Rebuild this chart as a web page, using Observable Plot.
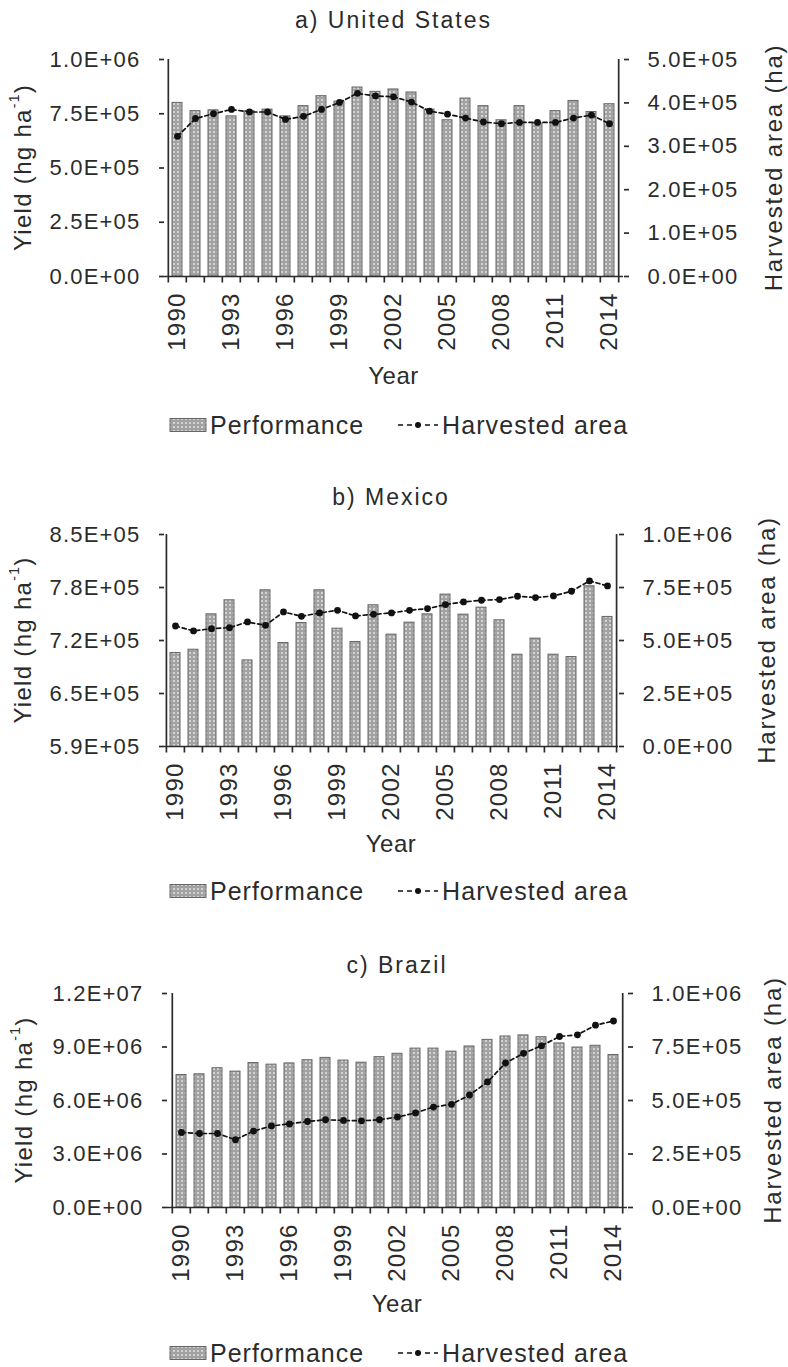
<!DOCTYPE html>
<html><head><meta charset="utf-8">
<script src="https://cdn.jsdelivr.net/npm/d3@7"></script>
<script src="https://cdn.jsdelivr.net/npm/@observablehq/plot@0.6"></script>
<style>
body{margin:0;background:#fff;}
#root{position:relative;width:788px;height:1367px;overflow:hidden;font-family:"Liberation Sans",Arial,sans-serif;color:#2b2b2b;}
.title{position:absolute;left:0;width:788px;text-align:center;font-size:23px;letter-spacing:2px;line-height:30px;}
</style></head><body><div id="root"></div>
<script>
// ---- data ----
const years = [1990,1991,1992,1993,1994,1995,1996,1997,1998,1999,2000,2001,2002,2003,2004,2005,2006,2007,2008,2009,2010,2011,2012,2013,2014];
const labelYears = [1990,1993,1996,1999,2002,2005,2008,2011,2014];

const usYield = [800000,762000,766000,738000,762000,769000,738000,785000,831000,806000,871000,851000,862000,848000,769000,720000,820000,785000,720000,785000,705000,762000,809000,758000,794000];
const usArea  = [323000,364000,375000,385000,379000,379000,362000,369000,385000,401000,422000,416000,414000,402000,381000,374000,365000,356000,352000,355000,355000,355000,365000,372000,352000];

const mxYield = [699700,703700,747100,764300,690600,776600,711900,736500,776600,729500,713200,758200,722200,736900,747100,771300,746700,755300,739800,697600,717300,697600,694700,781500,743900];
const mxArea  = [568500,545000,555900,560600,587400,571700,634600,614200,629900,642500,615700,623600,629900,642500,650400,669300,681900,689800,692900,708700,702400,710200,732300,781100,757500];

const brYield = [7430000,7470000,7810000,7620000,8100000,8010000,8080000,8260000,8390000,8240000,8120000,8430000,8620000,8910000,8910000,8740000,9030000,9400000,9590000,9650000,9550000,9200000,8970000,9070000,8550000];
const brArea  = [350500,345700,345700,316700,356900,381000,390700,401900,410000,406800,405100,410000,422800,442100,469500,482300,525700,586800,675200,720300,755600,799000,807100,852100,871400];

const usYTicks = [0,250000,500000,750000,1000000];
const usYLabels = ["0.0E+00","2.5E+05","5.0E+05","7.5E+05","1.0E+06"];
const usATicks = [0,100000,200000,300000,400000,500000];
const usALabels = ["0.0E+00","1.0E+05","2.0E+05","3.0E+05","4.0E+05","5.0E+05"];

const mxYTicks = [585000,650000,715000,780000,845000];
const mxYLabels = ["5.9E+05","6.5E+05","7.2E+05","7.8E+05","8.5E+05"];
const mxATicks = [0,250000,500000,750000,1000000];
const mxALabels = ["0.0E+00","2.5E+05","5.0E+05","7.5E+05","1.0E+06"];

const brYTicks = [0,3000000,6000000,9000000,12000000];
const brYLabels = ["0.0E+00","3.0E+06","6.0E+06","9.0E+06","1.2E+07"];
const brATicks = [0,250000,500000,750000,1000000];
const brALabels = ["0.0E+00","2.5E+05","5.0E+05","7.5E+05","1.0E+06"];

const titles = ["a) United States","b) Mexico","c) Brazil"];

// ---- layout ----
const W = 788;
const INK = "#2b2b2b";
const FONT = '"Liberation Sans", Arial, sans-serif';
const root = document.getElementById("root");

function addPattern(svg, id) {
  const defs = svg.insert("defs", ":first-child");
  const p = defs.append("pattern").attr("id", id).attr("width", 4).attr("height", 4).attr("patternUnits", "userSpaceOnUse");
  p.append("rect").attr("width", 4).attr("height", 4).attr("fill", "#a2a2a2");
  p.append("rect").attr("x", 1).attr("y", 1).attr("width", 2).attr("height", 2).attr("fill", "#d2d2d2");
}

function nearestLabel(ticks, labels) {
  return d => {
    let bi = 0, bd = Infinity;
    ticks.forEach((t, i) => { const dd = Math.abs(t - d); if (dd < bd) { bd = dd; bi = i; } });
    return labels[bi];
  };
}

// small downward tick symbol for category boundaries
const downTick = {draw(ctx) { ctx.moveTo(0, 0); ctx.lineTo(0, 6); }};

function panel(cfg) {
  const L = cfg.layout;
  const data = years.map((year, i) => ({year, yield: cfg.yieldVals[i], area: cfg.areaVals[i]}));
  const [y0, y1] = [cfg.yTicks[0], cfg.yTicks[cfg.yTicks.length - 1]];
  const [a0, a1] = [cfg.aTicks[0], cfg.aTicks[cfg.aTicks.length - 1]];
  const toLeft = v => y0 + (v - a0) / (a1 - a0) * (y1 - y0);
  const aMapped = cfg.aTicks.map(toLeft);
  const step = (L.right - L.left) / years.length;
  const pid = "pat" + cfg.id;

  const t = document.createElement("div");
  t.className = "title";
  t.style.top = (L.titleY - 15) + "px";
  t.style.left = ((L.left + L.right) / 2 - W / 2) + "px";
  t.textContent = cfg.title;
  root.appendChild(t);

  const chart = Plot.plot({
    width: W, height: L.svgBottom - L.svgTop,
    marginLeft: L.left, marginRight: W - L.right,
    marginTop: L.frameTop - L.svgTop, marginBottom: L.svgBottom - L.frameBottom,
    style: {fontFamily: FONT, fontSize: "22px", letterSpacing: "1.2px", color: INK, background: "transparent", overflow: "visible"},
    x: {type: "band", domain: years, paddingInner: 0.42, paddingOuter: 0.21, axis: null},
    y: {domain: [y0, y1], axis: null},
    marks: [
      Plot.barY(data, {x: "year", y: "yield", fill: `url(#${pid})`, stroke: "#666", strokeWidth: 1, clip: true}),
      Plot.line(data, {x: "year", y: d => toLeft(d.area), stroke: "#111", strokeWidth: 1.7, strokeDasharray: "4,3"}),
      Plot.dot(data, {x: "year", y: d => toLeft(d.area), r: 3.4, fill: "#111", stroke: "none"}),
      Plot.ruleY([y0], {stroke: INK, strokeWidth: 1.7}),
      Plot.ruleX([years[0]], {dx: -step / 2, stroke: INK, strokeWidth: 1.7}),
      Plot.ruleX([years[years.length - 1]], {dx: step / 2, stroke: INK, strokeWidth: 1.7}),
      Plot.axisY({anchor: "left", ticks: cfg.yTicks, tickFormat: nearestLabel(cfg.yTicks, cfg.yLabels), tickSize: 5, tickPadding: 19, label: null, stroke: INK, strokeWidth: 1.7}),
      Plot.axisY({anchor: "right", ticks: aMapped, tickFormat: nearestLabel(aMapped, cfg.aLabels), tickSize: 5, tickPadding: 19, label: null, stroke: INK, strokeWidth: 1.7}),
      Plot.axisX({ticks: labelYears, tickFormat: d => String(d), tickSize: 0, tickRotate: -90, tickPadding: 16, label: null, fontSize: 24, letterSpacing: 1.5}),
      Plot.dot(years, {x: d => d, y: () => y0, symbol: downTick, dx: -step / 2, stroke: INK, strokeWidth: 1.7, fill: "none"}),
      Plot.dot([years[years.length - 1]], {x: d => d, y: () => y0, symbol: downTick, dx: step / 2, stroke: INK, strokeWidth: 1.7, fill: "none"})
    ]
  });
  chart.style.position = "absolute";
  chart.style.left = "0px";
  chart.style.top = L.svgTop + "px";
  const svg = d3.select(chart);
  addPattern(svg, pid);

  const midY = (L.frameTop + L.frameBottom) / 2 - L.svgTop;
  const lt = svg.append("text")
    .attr("transform", `translate(${L.leftTitleX},${midY}) rotate(-90)`)
    .attr("text-anchor", "middle").attr("dominant-baseline", "central")
    .attr("fill", INK).style("font-size", "24px").style("letter-spacing", "1.3px");
  lt.append("tspan").text("Yield (hg ha");
  lt.append("tspan").attr("dy", -8).style("font-size", "14px").text("-1");
  lt.append("tspan").attr("dy", 8).text(")");
  svg.append("text")
    .attr("transform", `translate(${L.rightTitleX},${midY}) rotate(-90)`)
    .attr("text-anchor", "middle").attr("dominant-baseline", "central")
    .attr("fill", INK).style("font-size", "24px").style("letter-spacing", "1.8px")
    .text("Harvested area (ha)");
  svg.append("text")
    .attr("x", (L.left + L.right) / 2).attr("y", L.yearY - L.svgTop)
    .attr("text-anchor", "middle").attr("dominant-baseline", "central")
    .attr("fill", INK).style("font-size", "24px").style("letter-spacing", "0.5px")
    .text("Year");
  root.appendChild(chart);

  const lg = d3.create("svg").attr("width", W).attr("height", 40)
    .style("position", "absolute").style("left", "0px").style("top", (L.legendY - 20) + "px")
    .style("font-family", FONT).style("overflow", "visible");
  addPattern(lg, pid + "L");
  lg.append("rect").attr("x", 170).attr("y", 13.5).attr("width", 36).attr("height", 13)
    .attr("fill", `url(#${pid}L)`).attr("stroke", "#666").attr("stroke-width", 1);
  lg.append("text").attr("x", 210).attr("y", 20).attr("dominant-baseline", "central")
    .attr("fill", INK).style("font-size", "25px").style("letter-spacing", "1px").text("Performance");
  lg.append("line").attr("x1", 398).attr("x2", 438).attr("y1", 20).attr("y2", 20)
    .attr("stroke", "#111").attr("stroke-width", 1.7).attr("stroke-dasharray", "5,4");
  lg.append("circle").attr("cx", 418).attr("cy", 20).attr("r", 3).attr("fill", "#111");
  lg.append("text").attr("x", 442).attr("y", 20).attr("dominant-baseline", "central")
    .attr("fill", INK).style("font-size", "25px").style("letter-spacing", "1.1px").text("Harvested area");
  root.appendChild(lg.node());
}

panel({id: "a", title: titles[0], yieldVals: usYield, areaVals: usArea,
  yTicks: usYTicks, yLabels: usYLabels, aTicks: usATicks, aLabels: usALabels,
  layout: {titleY: 20, svgTop: 38, frameTop: 59, frameBottom: 276, svgBottom: 395, left: 164, right: 623,
           leftTitleX: 22, rightTitleX: 773, yearY: 375, legendY: 425}});
panel({id: "b", title: titles[1], yieldVals: mxYield, areaVals: mxArea,
  yTicks: mxYTicks, yLabels: mxYLabels, aTicks: mxATicks, aLabels: mxALabels,
  layout: {titleY: 497, svgTop: 515, frameTop: 534, frameBottom: 746, svgBottom: 866, left: 164, right: 618,
           leftTitleX: 22, rightTitleX: 766, yearY: 843, legendY: 891}});
panel({id: "c", title: titles[2], yieldVals: brYield, areaVals: brArea,
  yTicks: brYTicks, yLabels: brYLabels, aTicks: brATicks, aLabels: brALabels,
  layout: {titleY: 965, svgTop: 975, frameTop: 993, frameBottom: 1207, svgBottom: 1325, left: 167, right: 627,
           leftTitleX: 23, rightTitleX: 772, yearY: 1303, legendY: 1353}});
</script>
</body></html>
